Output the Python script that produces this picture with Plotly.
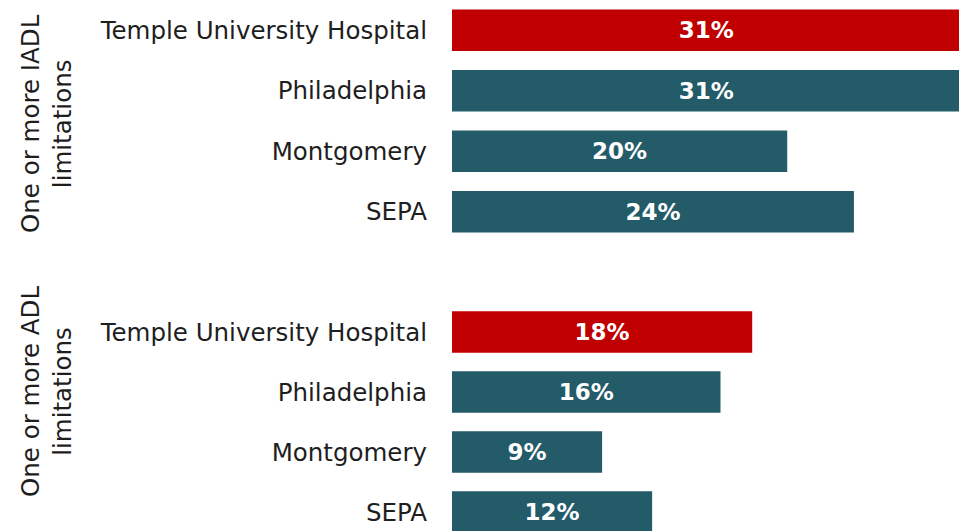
import plotly.graph_objects as go
from plotly.subplots import make_subplots

# datos
categories = ["Temple University Hospital", "Philadelphia", "Montgomery", "SEPA"]
iadl_values = [30.5, 30.5, 20.1, 24.1]
iadl_labels = ["31%", "31%", "20%", "24%"]
adl_values = [18.0, 16.1, 9.0, 12.0]
adl_labels = ["18%", "16%", "9%", "12%"]
group_titles = ["One or more IADL<br>limitations", "One or more ADL<br>limitations"]

RED = "#C00000"
TEAL = "#235B69"
bar_colors = [RED, TEAL, TEAL, TEAL]
FONT = "DejaVu Sans"
W, H = 959, 531

fig = make_subplots(rows=2, cols=1, vertical_spacing=0.0)

for row, vals, labels in [(1, iadl_values, iadl_labels), (2, adl_values, adl_labels)]:
    fig.add_trace(
        go.Bar(
            x=vals,
            y=categories,
            orientation="h",
            marker=dict(color=bar_colors, line=dict(width=0)),
            text=labels,
            textposition="inside",
            insidetextanchor="middle",
            textfont=dict(family=FONT, size=23, color="white", weight="bold"),
            showlegend=False,
            hoverinfo="skip",
        ),
        row=row, col=1,
    )

# dominios en pixeles -> fraccion del papel
top_dom = [1 - 242 / H, 1]
bot_dom = [0, 1 - 302 / H]

fig.update_layout(
    width=W, height=H,
    margin=dict(l=452, r=0, t=0, b=0),
    paper_bgcolor="white",
    plot_bgcolor="white",
    bargap=0.31,
    font=dict(family=FONT, color="#1e1e1e"),
    yaxis=dict(domain=top_dom, range=[3.5, -0.5]),
    yaxis2=dict(domain=bot_dom, range=[3 + 19 / 60, -0.5]),
)

fig.update_xaxes(range=[0, 30.4], visible=False, fixedrange=True)
fig.update_yaxes(
    type="category",
    showgrid=False, zeroline=False, showline=False,
    ticks="", ticklabelstandoff=24,
    tickfont=dict(family=FONT, size=24.5, color="#1e1e1e"),
)

# titulos de grupo rotados
for title, yc in [(group_titles[0], 124), (group_titles[1], 392)]:
    fig.add_annotation(
        text=title, textangle=-90,
        xref="paper", yref="paper",
        x=-406 / 507, y=1 - yc / H,
        xanchor="center", yanchor="middle",
        showarrow=False,
        font=dict(family=FONT, size=24.5, color="#1e1e1e"),
    )

# quitar el margen del body para que la figura ocupe la ventana
fig.write_html(
    "out.html",
    config={"displayModeBar": False},
    post_script="document.body.style.margin='0';",
)
